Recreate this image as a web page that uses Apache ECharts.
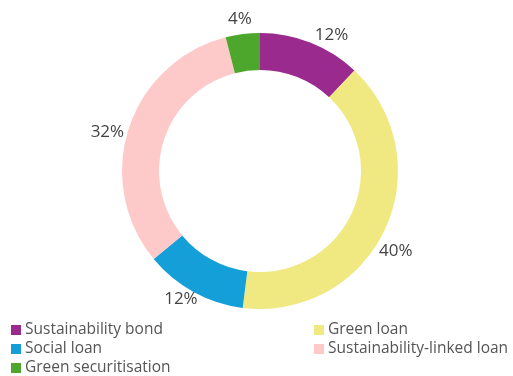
<!DOCTYPE html>
<html>
<head>
<meta charset="utf-8">
<script src="https://cdn.jsdelivr.net/npm/echarts@6/dist/echarts.min.js"></script>
<style>
  html, body { margin: 0; padding: 0; background: #fff; }
  #chart { width: 513px; height: 376px; }
</style>
</head>
<body>
<div id="chart"></div>
<script>
// order goes clockwise from 12 o'clock
const categories = ["Sustainability bond", "Green loan", "Social loan", "Sustainability-linked loan", "Green securitisation"]
const shares = [12, 40, 12, 32, 4]
const colors = ["#9b2a8f", "#f0e982", "#159fd8", "#fec9c9", "#4da72d"]

const leftLegend = ["Sustainability bond", "Social loan", "Green securitisation"]
const rightLegend = ["Green loan", "Sustainability-linked loan"]

// small nudges so the % labels sit where the original put them
const labelNudge = [[-4, 0], [-18, 18], [13, 0], [8, 6], [15, -7]]

let myChart = echarts.init(document.getElementById("chart"), null, { renderer: "canvas" })

let legendBase = {
    orient: "vertical",
    icon: "rect",
    padding: 0,
    height: 80,
    itemWidth: 10,
    itemHeight: 10,
    itemGap: 3,
    itemStyle: { borderWidth: 0 },
    textStyle: {
        fontFamily: "Open Sans",
        fontSize: 15.5,
        color: "#555",
        lineHeight: 14,
        padding: [0, 0, 0, -1]
    },
    selectedMode: false
}

let option = {
    animation: false,
    color: colors,
    legend: [
        Object.assign({}, legendBase, { data: leftLegend, left: 11, top: 322 }),
        Object.assign({}, legendBase, { data: rightLegend, left: 314, top: 322 })
    ],
    series: [
        {
            type: "pie",
            center: [260, 171],
            radius: [101, 138],
            startAngle: 90,
            clockwise: true,
            avoidLabelOverlap: false,
            itemStyle: { borderWidth: 0 },
            emphasis: { disabled: true },
            label: {
                show: true,
                position: "outside",
                formatter: "{c}%",
                fontFamily: "Open Sans",
                fontSize: 17,
                color: "#444"
            },
            labelLine: { show: false, length: 8, length2: 0 },
            data: categories.map((name, i) => ({
                name: name,
                value: shares[i],
                label: { offset: labelNudge[i] }
            }))
        }
    ]
}
myChart.setOption(option)
</script>
</body>
</html>
